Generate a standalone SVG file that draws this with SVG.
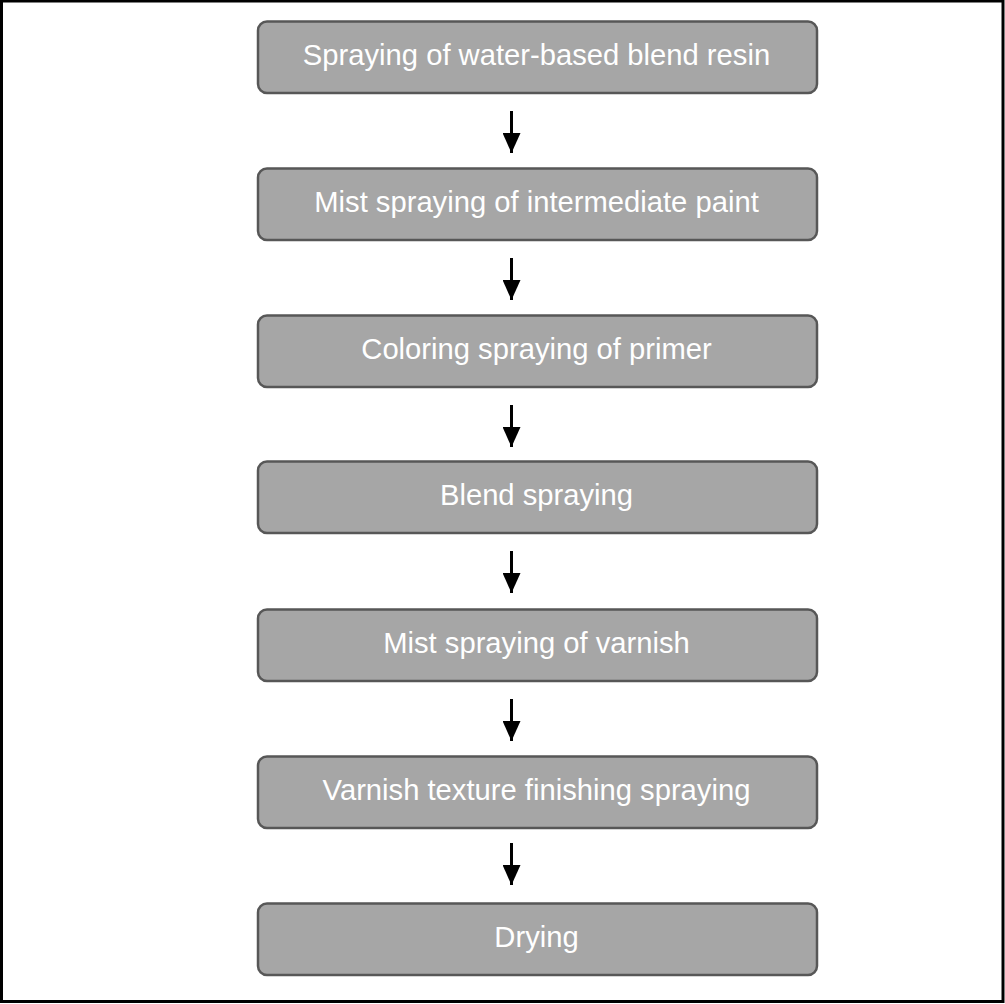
<svg xmlns="http://www.w3.org/2000/svg" width="1005" height="1004" viewBox="0 0 1005 1004">
<style>
.box{fill:#a6a6a6;stroke:#575757;stroke-width:2.5}
.lbl{font-family:"Liberation Sans",Arial,sans-serif;font-size:29.2px;fill:#ffffff;text-anchor:middle}
.conn line{stroke:#000;stroke-width:3}
</style>
<defs>
<marker id="ah" markerUnits="userSpaceOnUse" markerWidth="20" markerHeight="18" refX="20" refY="9" orient="auto">
<path d="M0,0 L20,9 L0,18 Z" fill="#000"/>
</marker>
</defs>
<rect x="0" y="0" width="1005" height="1004" fill="#fff"/>
<rect x="1.5" y="1" width="1001.5" height="1000.5" fill="none" stroke="#000" stroke-width="3"/>
<g id="n1"><rect class="box" x="258" y="21.5" width="559" height="71.5" rx="9"/><text class="lbl" x="536.5" y="65">Spraying of water-based blend resin</text></g>
<g id="n2"><rect class="box" x="258" y="168.5" width="559" height="71.5" rx="9"/><text class="lbl" x="536.5" y="212">Mist spraying of intermediate paint</text></g>
<g id="n3"><rect class="box" x="258" y="315.5" width="559" height="71.5" rx="9"/><text class="lbl" x="536.5" y="359">Coloring spraying of primer</text></g>
<g id="n4"><rect class="box" x="258" y="461.5" width="559" height="71.5" rx="9"/><text class="lbl" x="536.5" y="505">Blend spraying</text></g>
<g id="n5"><rect class="box" x="258" y="609.5" width="559" height="71.5" rx="9"/><text class="lbl" x="536.5" y="653">Mist spraying of varnish</text></g>
<g id="n6"><rect class="box" x="258" y="756.5" width="559" height="71.5" rx="9"/><text class="lbl" x="536.5" y="800">Varnish texture finishing spraying</text></g>
<g id="n7"><rect class="box" x="258" y="903.5" width="559" height="71.5" rx="9"/><text class="lbl" x="536.5" y="947">Drying</text></g>
<g id="connectors" class="conn">
<line x1="511.5" y1="111" x2="511.5" y2="153" marker-end="url(#ah)"/>
<line x1="511.5" y1="258" x2="511.5" y2="300" marker-end="url(#ah)"/>
<line x1="511.5" y1="405" x2="511.5" y2="447" marker-end="url(#ah)"/>
<line x1="511.5" y1="551" x2="511.5" y2="593" marker-end="url(#ah)"/>
<line x1="511.5" y1="699" x2="511.5" y2="741" marker-end="url(#ah)"/>
<line x1="511.5" y1="843" x2="511.5" y2="885" marker-end="url(#ah)"/>
</g>
</svg>
